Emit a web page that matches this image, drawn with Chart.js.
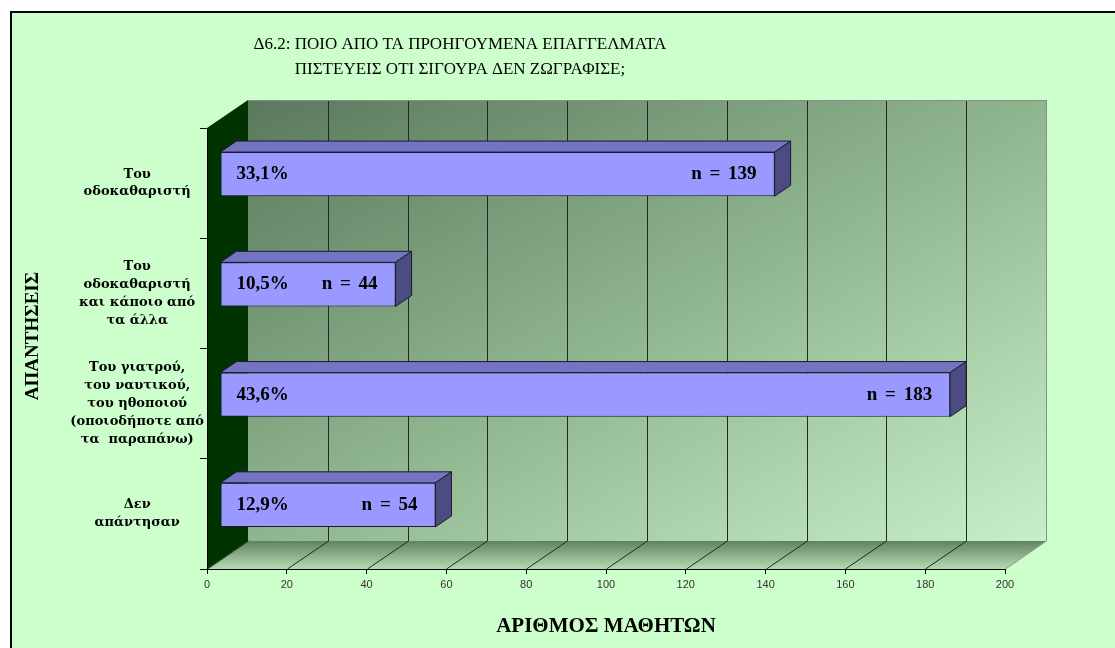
<!DOCTYPE html>
<html>
<head>
<meta charset="utf-8">
<script src="https://cdn.jsdelivr.net/npm/chart.js@4.4.0/dist/chart.umd.min.js"></script>
<style>
  html, body { margin: 0; padding: 0; background: #ffffff; }
  canvas { display: block; }
</style>
</head>
<body>
<canvas id="chart" width="1115" height="648"></canvas>
<script>
// Answer categories (multi-line tick labels)
const categories = [
  ["Του", "οδοκαθαριστή"],
  ["Του", "οδοκαθαριστή", "και κάποιο από", "τα άλλα"],
  ["Του γιατρού,", "του ναυτικού,", "του ηθοποιού", "(οποιοδήποτε από", "τα  παραπάνω)"],
  ["Δεν", "απάντησαν"]
];
// Number of pupils per answer
const counts = [139, 44, 183, 54];
// Share of pupils per answer
const percentLabels = ["33,1%", "10,5%", "43,6%", "12,9%"];
// Value axis ticks
const xTicks = [0, 20, 40, 60, 80, 100, 120, 140, 160, 180, 200];

const titleLines = [
  "Δ6.2: ΠΟΙΟ ΑΠΟ ΤΑ ΠΡΟΗΓΟΥΜΕΝΑ ΕΠΑΓΓΕΛΜΑΤΑ",
  "ΠΙΣΤΕΥΕΙΣ ΟΤΙ ΣΙΓΟΥΡΑ ΔΕΝ ΖΩΓΡΑΦΙΣΕ;"
];
const yTitle = "ΑΠΑΝΤΗΣΕΙΣ";
const xTitle = "ΑΡΙΘΜΟΣ ΜΑΘΗΤΩΝ";

// 3D look: offset of the back wall, of the bars' front plane, and bar depth
const WALL = { dx: 41, dy: -28 };
const PLANE = { dx: 13, dy: -9 };
const BAR_DEPTH = { dx: 16, dy: -11 };

const BAR_FRONT = "#9999FF";
const BAR_TOP = "#7474C2";
const BAR_SIDE = "#4C4C82";
const BAR_EDGE = "#1a1a30";

// Background, frame, walls, floor and their grid lines
const scene3d = {
  id: "scene3d",
  beforeDraw(chart) {
    const { ctx, chartArea: a, scales: { x } } = chart;
    const W = chart.width, H = chart.height;
    ctx.save();
    ctx.fillStyle = "#ffffff";
    ctx.fillRect(0, 0, W, H);
    ctx.fillStyle = "#CCFFCC";
    ctx.fillRect(12, 13, W, H);
    ctx.fillStyle = "#000000";
    ctx.fillRect(10, 11, 2, H);
    ctx.fillRect(10, 11, W, 2);

    const bl = a.left + WALL.dx, br = a.right + WALL.dx;
    const bt = a.top + WALL.dy, bb = a.bottom + WALL.dy;

    // back wall
    const w = br - bl, h = bb - bt;
    const s = (2 * w * h) / (w * w + h * h);
    const g = ctx.createLinearGradient(bl, bt, bl + h * s, bt + w * s);
    g.addColorStop(0, "#5b795d");
    g.addColorStop(0.5, "#8fb58f");
    g.addColorStop(1, "#c8f0c8");
    ctx.fillStyle = g;
    ctx.fillRect(bl, bt, w, h);

    // floor
    const fg = ctx.createLinearGradient(0, bb, 0, a.bottom);
    fg.addColorStop(0, "#62825f");
    fg.addColorStop(1, "#b4dcb4");
    ctx.fillStyle = fg;
    ctx.beginPath();
    ctx.moveTo(a.left, a.bottom);
    ctx.lineTo(bl, bb);
    ctx.lineTo(br, bb);
    ctx.lineTo(a.right, a.bottom);
    ctx.closePath();
    ctx.fill();

    // left wall
    ctx.fillStyle = "#003300";
    ctx.beginPath();
    ctx.moveTo(a.left, a.top);
    ctx.lineTo(bl, bt);
    ctx.lineTo(bl, bb);
    ctx.lineTo(a.left, a.bottom);
    ctx.closePath();
    ctx.fill();

    // grid lines on the back wall and floor
    ctx.lineWidth = 1;
    xTicks.forEach((v, i) => {
      const px = Math.round(x.getPixelForValue(v)) + 0.5;
      const last = i === xTicks.length - 1;
      ctx.strokeStyle = last ? "#8c8c8c" : "#1e2a1e";
      if (i > 0) {
        ctx.beginPath();
        ctx.moveTo(px + WALL.dx, bt);
        ctx.lineTo(px + WALL.dx, bb);
        ctx.stroke();
      }
      ctx.beginPath();
      ctx.moveTo(px, a.bottom);
      ctx.lineTo(px + WALL.dx, bb);
      ctx.stroke();
    });
    // outer edge of the wall
    ctx.strokeStyle = "#8c8c8c";
    ctx.beginPath();
    ctx.moveTo(bl, bt + 0.5);
    ctx.lineTo(br, bt + 0.5);
    ctx.stroke();
    ctx.restore();
  }
};

// Bars sit on a plane set back from the front axis; add their top and side faces
const barFaces = {
  id: "barFaces",
  beforeDatasetsDraw(chart) {
    chart.ctx.save();
    chart.ctx.translate(PLANE.dx, PLANE.dy);
  },
  afterDatasetsDraw(chart) {
    const ctx = chart.ctx;
    const meta = chart.getDatasetMeta(0);
    ctx.lineWidth = 1;
    ctx.strokeStyle = BAR_EDGE;
    ctx.lineJoin = "round";
    meta.data.forEach((bar, i) => {
      const p = bar.getProps(["x", "y", "base", "height"], true);
      const xl = p.base, xr = p.x;
      const yt = p.y - p.height / 2, yb = p.y + p.height / 2;
      // top face
      ctx.beginPath();
      ctx.moveTo(xl, yt);
      ctx.lineTo(xl + BAR_DEPTH.dx, yt + BAR_DEPTH.dy);
      ctx.lineTo(xr + BAR_DEPTH.dx, yt + BAR_DEPTH.dy);
      ctx.lineTo(xr, yt);
      ctx.closePath();
      ctx.fillStyle = BAR_TOP;
      ctx.fill();
      ctx.stroke();
      // side face
      ctx.beginPath();
      ctx.moveTo(xr, yt);
      ctx.lineTo(xr + BAR_DEPTH.dx, yt + BAR_DEPTH.dy);
      ctx.lineTo(xr + BAR_DEPTH.dx, yb + BAR_DEPTH.dy);
      ctx.lineTo(xr, yb);
      ctx.closePath();
      ctx.fillStyle = BAR_SIDE;
      ctx.fill();
      ctx.stroke();
      // value labels
      ctx.fillStyle = "#000000";
      ctx.font = 'bold 19px "Liberation Serif"';
      ctx.wordSpacing = "3px";
      ctx.textBaseline = "middle";
      ctx.textAlign = "left";
      ctx.fillText(percentLabels[i], xl + 16, p.y);
      ctx.textAlign = "right";
      ctx.fillText("n = " + counts[i], xr - 18, p.y);
      ctx.wordSpacing = "0px";
    });
    ctx.restore();
  }
};

// Chart heading and the rotated answers title
const titles = {
  id: "titles",
  afterDraw(chart) {
    const ctx = chart.ctx;
    ctx.save();
    ctx.fillStyle = "#000000";
    ctx.textAlign = "center";
    ctx.textBaseline = "middle";
    ctx.font = '17px "Liberation Serif"';
    ctx.fillText(titleLines[0], 460, 45);
    ctx.fillText(titleLines[1], 460, 70);
    ctx.translate(33, 336);
    ctx.rotate(-Math.PI / 2);
    ctx.font = 'bold 19px "Liberation Serif"';
    ctx.fillText(yTitle, 0, 0);
    ctx.restore();
  }
};

new Chart(document.getElementById("chart"), {
  type: "bar",
  data: {
    labels: categories,
    datasets: [{
      data: counts,
      backgroundColor: BAR_FRONT,
      borderColor: BAR_EDGE,
      borderWidth: 1,
      borderSkipped: false,
      barPercentage: 0.4,
      categoryPercentage: 1
    }]
  },
  options: {
    indexAxis: "y",
    responsive: false,
    animation: false,
    devicePixelRatio: 1,
    layout: { padding: { top: 128, right: 110, left: 0, bottom: 0 } },
    plugins: {
      legend: { display: false },
      tooltip: { enabled: false },
      title: { display: false }
    },
    scales: {
      x: {
        min: 0,
        max: 200,
        afterBuildTicks: (s) => { s.ticks = xTicks.map((v) => ({ value: v })); },
        afterFit: (s) => { s.height = 79; },
        grid: { drawOnChartArea: false, drawTicks: true, tickLength: 5, color: "#000000" },
        border: { display: true, color: "#000000", width: 1 },
        ticks: {
          color: "#333333",
          font: { family: "Liberation Sans", size: 11 },
          padding: 4,
          maxRotation: 0,
          autoSkip: false
        },
        title: {
          display: true,
          text: xTitle,
          color: "#000000",
          font: { family: "Liberation Serif", size: 21, weight: "bold" },
          padding: { top: 0, bottom: 9 }
        }
      },
      y: {
        afterFit: (s) => { s.width = 207; },
        grid: { drawOnChartArea: false, drawTicks: true, tickLength: 7, color: "#000000", offset: true },
        border: { display: true, color: "#000000", width: 1 },
        ticks: {
          color: "#000000",
          crossAlign: "center",
          padding: -4,
          autoSkip: false,
          font: { family: "DejaVu Serif", size: 13, weight: "bold", lineHeight: 1.38 }
        }
      }
    }
  },
  plugins: [scene3d, barFaces, titles]
});
</script>
</body>
</html>
